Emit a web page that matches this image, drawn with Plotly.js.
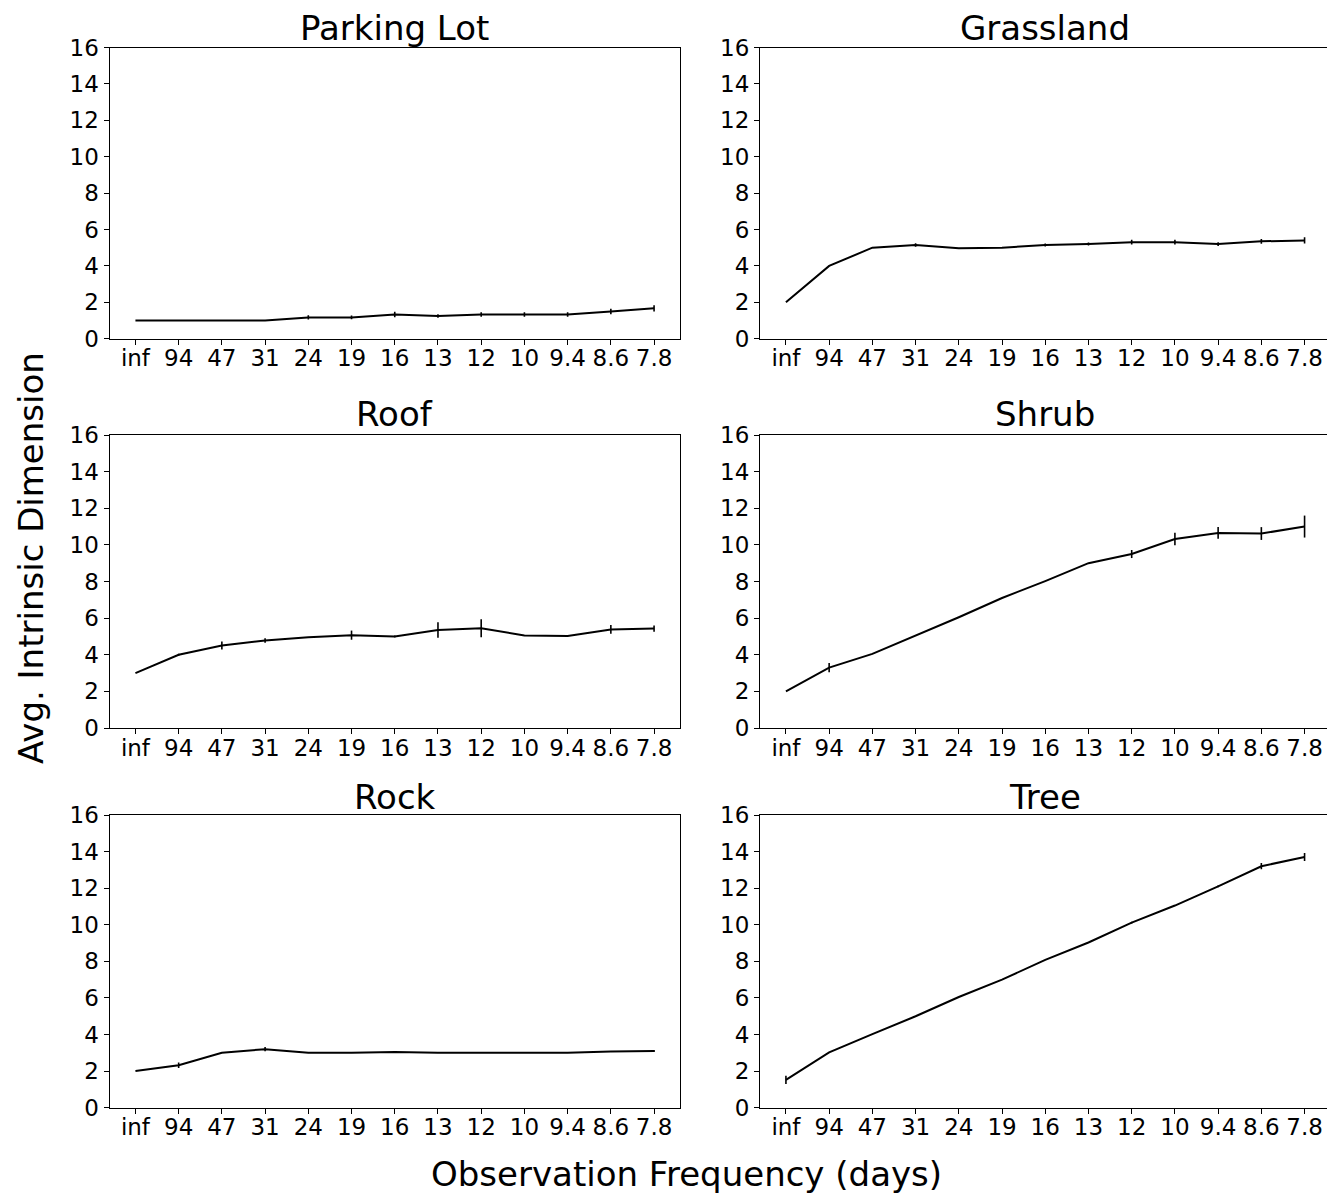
<!DOCTYPE html>
<html>
<head>
<meta charset="utf-8">
<script src="https://cdn.plot.ly/plotly-3.0.1.min.js"></script>
<style>html,body{margin:0;padding:0;background:#fff;}#chart{width:1327px;height:1196px;}</style>
</head>
<body>
<div id="chart"></div>
<script>
// Tick labels (observation frequency, days)
const freqLabels = ["inf","94","47","31","24","19","16","13","12","10","9.4","8.6","7.8"];

// Panel titles
const panelTitles = ["Parking Lot","Grassland","Roof","Shrub","Rock","Tree"];

// Mean intrinsic dimension per panel
const parkingLot = [1.0,1.0,1.0,1.0,1.17,1.17,1.33,1.25,1.33,1.33,1.33,1.5,1.67];
const grassland  = [2.0,4.0,5.0,5.15,4.97,5.0,5.15,5.2,5.3,5.3,5.2,5.35,5.4];
const roof       = [3.0,4.0,4.5,4.78,4.95,5.07,5.0,5.35,5.45,5.05,5.03,5.38,5.43];
const shrub      = [2.0,3.3,4.05,5.03,6.05,7.1,8.02,9.0,9.5,10.32,10.65,10.62,11.0];
const rock       = [2.0,2.32,3.0,3.2,3.0,3.0,3.05,3.0,3.0,3.0,3.0,3.07,3.1];
const tree       = [1.52,3.02,4.02,5.0,6.05,7.0,8.08,9.03,10.12,11.05,12.1,13.2,13.7];

// Error (std) per panel
const parkingLotErr = [0,0,0,0,0.12,0.1,0.15,0.1,0.12,0.12,0.12,0.15,0.17];
const grasslandErr  = [0,0,0,0.1,0,0,0.08,0.08,0.13,0.13,0.1,0.13,0.17];
const roofErr       = [0,0.05,0.22,0.12,0,0.25,0.05,0.42,0.49,0,0,0.24,0.17];
const shrubErr      = [0,0.25,0,0,0,0,0,0,0.22,0.34,0.32,0.35,0.6];
const rockErr       = [0,0.15,0,0.12,0,0,0,0,0,0,0,0.03,0.05];
const treeErr       = [0.22,0,0,0,0,0,0,0,0.05,0,0.05,0.17,0.22];

const series = [parkingLot, grassland, roof, shrub, rock, tree];
const errs = [parkingLotErr, grasslandErr, roofErr, shrubErr, rockErr, treeErr];

const W = 1327, H = 1196;
const colPx = [[109.5, 680], [760, 1327]];
const rowPx = [[47.5, 338.7], [435, 728], [815, 1107.7]];
const titleShift = [-3, -1, -4];
const pxPerCat = (680 - 109.5) / 13.2;

const FONT = "DejaVu Sans, Liberation Sans, Arial, sans-serif";
const traces = [];
const layout = {
  width: W, height: H,
  margin: {l: 0, r: 0, t: 0, b: 0},
  paper_bgcolor: "#fff", plot_bgcolor: "#fff",
  showlegend: false,
  font: {family: FONT, color: "#000"},
  annotations: []
};

for (let i = 0; i < 6; i++) {
  const r = Math.floor(i / 2), c = i % 2;
  const n = i + 1;
  const xa = "xaxis" + (n === 1 ? "" : n), ya = "yaxis" + (n === 1 ? "" : n);
  const xref = "x" + (n === 1 ? "" : n), yref = "y" + (n === 1 ? "" : n);
  const x0 = colPx[c][0], x1 = colPx[c][1];
  const y0 = rowPx[r][0], y1 = rowPx[r][1];
  const widthPx = x1 - x0;
  traces.push({
    type: "scatter", mode: "lines",
    x: freqLabels, y: series[i],
    xaxis: xref, yaxis: yref,
    line: {color: "#000", width: 2},
    error_y: {type: "data", array: errs[i], visible: true, color: "#000", thickness: 1.6, width: 0},
    hoverinfo: "x+y"
  });
  layout[xa] = {
    domain: [x0 / W, x1 / W],
    anchor: yref,
    type: "category",
    categoryorder: "array", categoryarray: freqLabels,
    range: [-0.6, -0.6 + widthPx / pxPerCat],
    showgrid: false, zeroline: false,
    showline: true, mirror: true, linecolor: "#000", linewidth: 1,
    ticks: "outside", ticklen: 5, tickwidth: 1, tickcolor: "#000",
    ticklabelstandoff: -6,
    tickfont: {family: FONT, size: 23, color: "#000"},
    automargin: false, fixedrange: true
  };
  layout[ya] = {
    domain: [1 - y1 / H, 1 - y0 / H],
    anchor: xref,
    range: [0, 16], tickmode: "array", tickvals: [0,2,4,6,8,10,12,14,16],
    showgrid: false, zeroline: false,
    showline: true, mirror: true, linecolor: "#000", linewidth: 1,
    ticks: "outside", ticklen: 5, tickwidth: 1, tickcolor: "#000",
    tickfont: {family: FONT, size: 23, color: "#000"},
    automargin: false, fixedrange: true
  };
  layout.annotations.push({
    text: panelTitles[i], xref: "paper", yref: "paper",
    x: ((colPx[c][0] + Math.min(colPx[c][1], 1330)) / 2 + (c === 1 ? 1.5 : 0)) / W,
    y: 1 - y0 / H, xanchor: "center", yanchor: "bottom", yshift: titleShift[r],
    showarrow: false, font: {family: FONT, size: 34, color: "#000"}
  });
}

layout.annotations.push({
  text: "Avg. Intrinsic Dimension", xref: "paper", yref: "paper",
  x: 31 / W, y: 1 - 558 / H, xanchor: "center", yanchor: "middle",
  textangle: -90, showarrow: false, font: {family: FONT, size: 34, color: "#000"}
});
layout.annotations.push({
  text: "Observation Frequency (days)", xref: "paper", yref: "paper",
  x: 686 / W, y: 0, xanchor: "center", yanchor: "bottom",
  showarrow: false, font: {family: FONT, size: 34, color: "#000"}
});

Plotly.newPlot("chart", traces, layout, {displayModeBar: false, staticPlot: true});
</script>
</body>
</html>
